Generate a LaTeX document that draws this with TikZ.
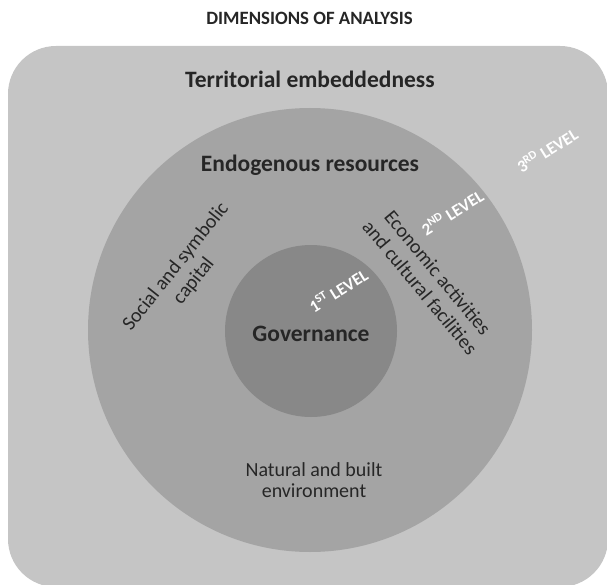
\documentclass[tikz,border=0pt]{standalone}
\usepackage{fontspec}
\setmainfont{Carlito}
\usepackage{tikz}
\definecolor{outergray}{RGB}{197,197,197}
\definecolor{middlegray}{RGB}{164,164,164}
\definecolor{innergray}{RGB}{136,136,136}
\definecolor{textgray}{RGB}{38,38,38}
\tikzset{
    titletext/.style={text=textgray,font=\fontsize{18.8}{22}\selectfont\bfseries,inner sep=0pt},
    dimtext/.style={text=textgray,font=\fontsize{23.5}{27}\selectfont\bfseries,inner sep=0pt},
    factortext/.style={text=textgray,font=\fontsize{20}{21}\selectfont,align=center,inner sep=0pt},
    slanttext/.style={factortext,font=\fontsize{20}{23}\selectfont},
    leveltext/.style={text=white,font=\fontsize{17}{19}\selectfont\bfseries,rotate=32,inner sep=0pt}
}

\begin{document}
\begin{tikzpicture}[line cap=round,line join=round,x=1pt,y=-1pt]
    \useasboundingbox (0,0) rectangle (607,585);
    % three levels
    \fill [outergray,rounded corners=48pt] (8,46) rectangle (608,587);
    \fill [middlegray] (310,330) circle (222pt);
    \fill [innergray] (311,331) circle (86pt);
    % dimensions
    \node[titletext] (title) at (309.5,18) {DIMENSIONS OF ANALYSIS};
    \node[dimtext] (territ) at (310,79) {Territorial embeddedness};
    \node[dimtext] (endog) at (310,165) {Endogenous resources};
    \node[dimtext] (gov) at (311,334) {Governance};
    % endogenous resources
    \node[slanttext,rotate=51.5] (social) at (185,274) {Social and symbolic\\capital};
    \node[slanttext,rotate=-50.4] (econ) at (429,280) {Economic activities\\and cultural facilities};
    \node[factortext] (natural) at (314,480) {Natural and built\\environment};
    % levels
    \node[leveltext] (first) at (338,290) {1\textsuperscript{ST} LEVEL};
    \node[leveltext] (second) at (452,212) {2\textsuperscript{ND} LEVEL};
    \node[leveltext] (third) at (547,150) {3\textsuperscript{RD} LEVEL};
\end{tikzpicture}
\end{document}
